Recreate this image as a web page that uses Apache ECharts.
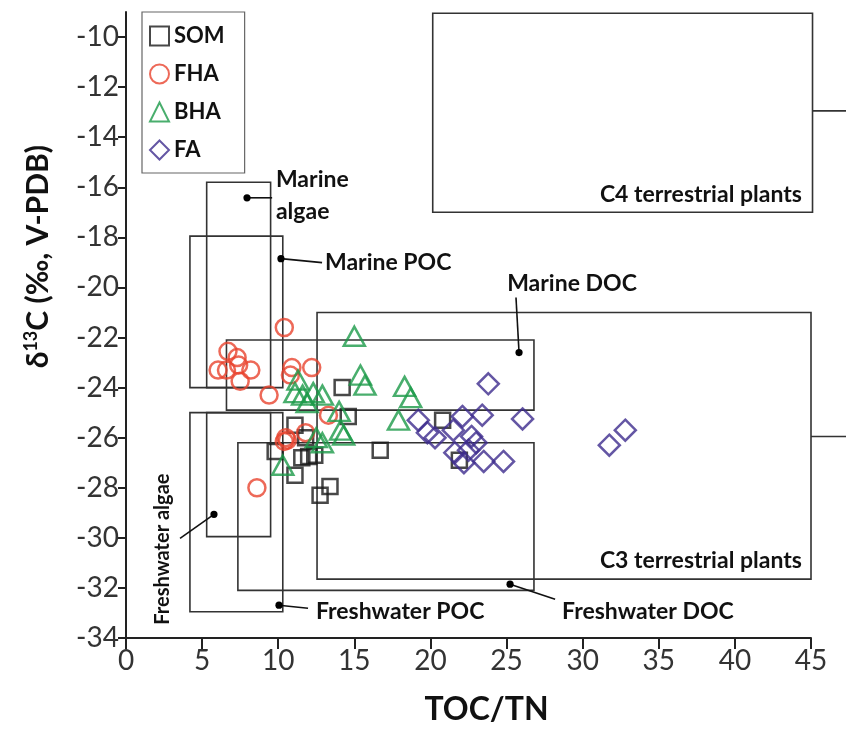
<!DOCTYPE html>
<html>
<head>
<meta charset="utf-8">
<script src="https://cdn.jsdelivr.net/npm/echarts@6/dist/echarts.min.js"></script>
<style>
html,body{margin:0;padding:0;background:#fff;}
#chart{width:846px;height:731px;}
</style>
</head>
<body>
<div id="chart"></div>
<script>
// ---- data ----
const xTicks = [0, 5, 10, 15, 20, 25, 30, 35, 40, 45];
const yTicks = [-34, -32, -30, -28, -26, -24, -22, -20, -18, -16, -14, -12, -10];

const somData = [
  [14.2, -24.0], [14.6, -25.15], [20.8, -25.3], [16.7, -26.5], [21.9, -26.9],
  [11.1, -25.5], [9.8, -26.55], [11.55, -26.8], [12.0, -26.75], [12.4, -26.7],
  [11.1, -27.5], [12.75, -28.3], [13.4, -27.95], [11.8, -26.0]
];
const fhaData = [
  [10.4, -21.6], [6.7, -22.55], [7.3, -22.8], [7.4, -23.1], [6.05, -23.3],
  [6.6, -23.3], [8.2, -23.3], [7.5, -23.75], [9.4, -24.3], [10.9, -23.2],
  [10.8, -23.5], [12.2, -23.2], [13.3, -25.1], [11.8, -25.8], [10.5, -26.0],
  [10.6, -26.1], [10.4, -26.15], [8.6, -28.0]
];
const bhaData = [
  [15.0, -21.95], [15.4, -23.5], [15.7, -23.9], [18.3, -23.95], [18.7, -24.4],
  [17.9, -25.3], [11.3, -23.7], [11.1, -24.2], [11.6, -24.3], [12.3, -24.2],
  [12.9, -24.3], [11.9, -24.6], [14.0, -24.95], [14.3, -25.9], [14.1, -25.7],
  [12.5, -26.0], [12.9, -26.2], [10.3, -27.1]
];
const faData = [
  [23.8, -23.85], [26.05, -25.25], [31.75, -26.3], [32.8, -25.7], [19.2, -25.3],
  [19.8, -25.8], [20.3, -26.0], [22.1, -25.15], [21.5, -25.7], [22.7, -25.95],
  [23.0, -26.2], [23.4, -25.1], [21.6, -26.6], [22.2, -27.0], [23.5, -26.95],
  [24.8, -26.95], [22.5, -26.5]
];

// source boxes [x1, y1, x2, y2]
const boxNames = ['Marine algae', 'Marine POC', 'Freshwater algae', 'Freshwater POC',
  'Marine DOC', 'Freshwater DOC', 'C3 terrestrial plants', 'C4 terrestrial plants'];
const boxes = [
  [5.3, -15.8, 9.5, -24.0],
  [4.2, -17.95, 10.3, -24.0],
  [5.3, -25.0, 9.5, -29.95],
  [4.2, -25.0, 10.3, -32.95],
  [6.6, -22.1, 26.8, -24.9],
  [7.35, -26.2, 26.8, -32.1],
  [12.55, -21.0, 45.0, -31.65],
  [20.15, -9.05, 45.1, -17.0]
];
// extension lines beyond the axis range [xStart, y, xEnd]
const extensions = [[45.1, -12.95, 48.5], [45.0, -25.95, 48.5]];

// annotations: text, dot [x,y], leader end [x,y], label anchor [x,y]
const annoText = ['Marine\nalgae', 'Marine POC', 'Marine DOC', 'Freshwater algae',
  'Freshwater POC', 'Freshwater DOC', 'C4 terrestrial plants', 'C3 terrestrial plants'];
const annoDot = [[7.95, -16.42], [10.18, -18.85], [25.82, -22.6], [5.78, -29.06],
  [10.05, -32.69], [25.23, -31.85], null, null];
const annoEnd = [[9.6, -16.42], [12.88, -19.01], [25.62, -20.4], [3.55, -30.02],
  [11.96, -32.81], [28.19, -32.45], null, null];
const annoLabel = [[9.85, -16.35], [13.07, -19.0], [29.3, -19.85], [2.43, -30.45],
  [12.48, -32.95], [28.65, -32.95], [44.4, -16.3], [44.4, -30.9]];

// ---- styles ----
const annoAlign = ['left', 'left', 'center', 'center', 'left', 'left', 'right', 'right'];
const annoRotate = [0, 0, 0, 90, 0, 0, 0, 0];
const annoSize = [23, 23, 23, 20, 23, 23, 23, 23];

const FONT = 'Lato, "Open Sans", sans-serif';
const chart = echarts.init(document.getElementById('chart'));

function hollow(color) {
  return { color: 'rgba(0,0,0,0)', borderColor: color, borderWidth: 2.5 };
}

const option = {
  backgroundColor: '#fff',
  animation: false,
  grid: { left: 126, right: 35, top: 12, bottom: 91, containLabel: false },
  graphic: [{
    type: 'text', left: 22, top: 145,
    rotation: Math.PI / 2,
    style: {
      text: '{d|δ}{s|13}{d|C (‰, V-PDB)}',
      fill: '#111',
      rich: {
        d: { fontFamily: FONT, fontWeight: 'bold', fontSize: 30, fill: '#111' },
        s: { fontFamily: FONT, fontWeight: 'bold', fontSize: 18, fill: '#111', padding: [0, 0, 15, 0] }
      }
    }
  }],
  legend: {
    orient: 'vertical',
    left: 142, top: 12,
    data: ['SOM', 'FHA', 'BHA', 'FA'],
    itemWidth: 19, itemHeight: 19, itemGap: 16,
    padding: [13, 20, 12, 7],
    borderColor: '#666', borderWidth: 1.2,
    textStyle: { fontFamily: FONT, fontWeight: 'bold', fontSize: 22, color: '#111' }
  },
  xAxis: {
    type: 'value', min: 0, max: 45, interval: 5,
    name: 'TOC/TN', nameLocation: 'middle', nameGap: 56,
    nameTextStyle: { fontFamily: FONT, fontWeight: 'bold', fontSize: 32, color: '#111', padding: [0, 0, 0, 36] },
    axisLine: { show: true, onZero: false, lineStyle: { color: '#222', width: 2 } },
    axisTick: { show: true, inside: false, length: 11, lineStyle: { color: '#222', width: 2 } },
    axisLabel: { fontFamily: FONT, fontSize: 28, color: '#333', margin: 9,
      customValues: xTicks, formatter: v => String(v) },
    splitLine: { show: false }
  },
  yAxis: {
    type: 'value', min: -34, max: -9,
    axisLine: { show: true, onZero: false, lineStyle: { color: '#222', width: 2 } },
    axisTick: { show: true, inside: false, length: 8, customValues: yTicks, lineStyle: { color: '#222', width: 2 } },
    axisLabel: { fontFamily: FONT, fontSize: 28, color: '#333', margin: 7,
      customValues: yTicks, formatter: v => String(v).replace('−', '-') },
    splitLine: { show: false }
  },
  series: [
    {
      type: 'custom', name: 'boxes', clip: false, silent: true, z: 1,
      data: boxes,
      renderItem: function (params, api) {
        const p1 = api.coord([api.value(0), api.value(1)]);
        const p2 = api.coord([api.value(2), api.value(3)]);
        return {
          type: 'rect',
          shape: { x: Math.min(p1[0], p2[0]), y: Math.min(p1[1], p2[1]),
            width: Math.abs(p2[0] - p1[0]), height: Math.abs(p2[1] - p1[1]) },
          style: { fill: 'none', stroke: '#333', lineWidth: 1.6 }
        };
      }
    },
    {
      type: 'custom', name: 'extensions', clip: false, silent: true, z: 1,
      data: extensions,
      renderItem: function (params, api) {
        const p1 = api.coord([api.value(0), api.value(1)]);
        const p2 = api.coord([api.value(2), api.value(1)]);
        return {
          type: 'line',
          shape: { x1: p1[0], y1: p1[1], x2: p2[0], y2: p2[1] },
          style: { stroke: '#333', lineWidth: 1.6 }
        };
      }
    },
    {
      type: 'custom', name: 'annotations', clip: false, silent: true, z: 3,
      data: annoText.map((t, i) => [i]),
      renderItem: function (params, api) {
        const i = api.value(0);
        const children = [];
        if (annoDot[i]) {
          const d = api.coord(annoDot[i]);
          const e = api.coord(annoEnd[i]);
          children.push({ type: 'line', shape: { x1: d[0], y1: d[1], x2: e[0], y2: e[1] },
            style: { stroke: '#111', lineWidth: 1.6 } });
          children.push({ type: 'circle', shape: { cx: d[0], cy: d[1], r: 3.6 },
            style: { fill: '#000' } });
        }
        const l = api.coord(annoLabel[i]);
        children.push({
          type: 'text', x: l[0], y: l[1],
          rotation: annoRotate[i] * Math.PI / 180,
          style: { text: annoText[i], fontFamily: FONT, fontWeight: 'bold', fontSize: annoSize[i],
            lineHeight: 32, fill: '#111', align: annoAlign[i], verticalAlign: 'middle' }
        });
        return { type: 'group', children: children };
      }
    },
    {
      type: 'scatter', name: 'SOM', data: somData, symbol: 'rect', symbolSize: 15, z: 4,
      itemStyle: hollow('#1a1a1a')
    },
    {
      type: 'scatter', name: 'FHA', data: fhaData, symbol: 'circle', symbolSize: 17, z: 4,
      itemStyle: hollow('#e8432e')
    },
    {
      type: 'scatter', name: 'BHA', data: bhaData, symbol: 'triangle', symbolSize: [21, 19], z: 4,
      itemStyle: hollow('#1c9a48')
    },
    {
      type: 'scatter', name: 'FA', data: faData, symbol: 'diamond', symbolSize: 21, z: 4,
      itemStyle: hollow('#3d2c8d')
    }
  ]
};
chart.setOption(option);
</script>
</body>
</html>
